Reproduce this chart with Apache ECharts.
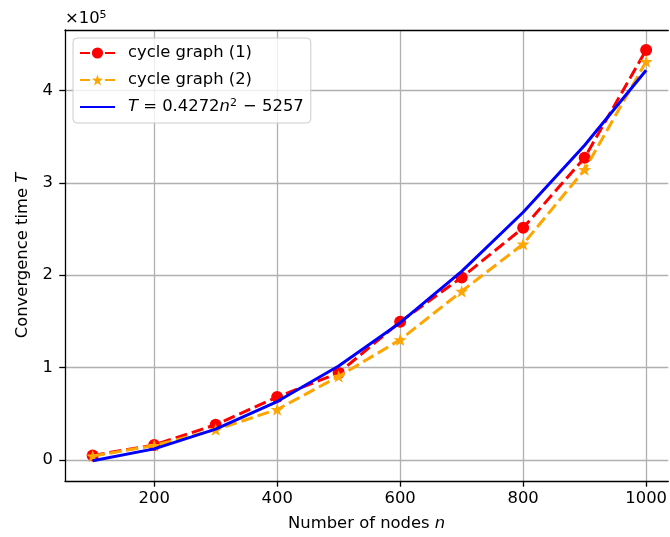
<!DOCTYPE html>
<html>
<head>
<meta charset="utf-8">
<script src="https://cdn.jsdelivr.net/npm/echarts@6/dist/echarts.min.js"></script>
<style>html,body{margin:0;padding:0;background:#fff}#c{width:670px;height:537px}</style>
</head>
<body>
<div id="c"></div>
<script>
const nodes = [100, 200, 300, 400, 500, 600, 700, 800, 900, 1000];
const cycle1 = [4700, 16000, 38000, 68000, 94000, 149500, 197500, 251300, 327200, 444000];
const cycle2 = [4000, 15500, 32600, 54500, 90300, 130000, 182500, 233700, 314300, 431500];
const fitT = [-985, 11831, 33191, 63095, 101543, 148535, 204071, 268151, 340775, 421943];
const xTicks = [200, 400, 600, 800, 1000];
const yTicks = [0, 100000, 200000, 300000, 400000];
const seriesNames = ['cycle graph (1)', 'cycle graph (2)', 'fit'];

const FONT = 'DejaVu Sans';
const FS = 16.4;
const pairs = (ys) => nodes.map((x, i) => [x, ys[i]]);
const starPath = 'path://M0,-10 L2.35,-3.24 L9.51,-3.09 L3.8,1.24 L5.88,8.09 L0,4 L-5.88,8.09 L-3.8,1.24 L-9.51,-3.09 L-2.35,-3.24 Z';

const chart = echarts.init(document.getElementById('c'), null, {renderer: 'canvas'});
const axisCommon = {
  axisLine: {show: true, onZero: false, lineStyle: {color: '#000', width: 1.3}},
  axisTick: {show: true, inside: false, length: 5.7, lineStyle: {color: '#000', width: 1.3}},
  splitLine: {show: true, lineStyle: {color: '#b0b0b0', width: 1.3}},
};
const richAxis = {
  a: {fontSize: FS, fontFamily: FONT, color: '#000'},
  i: {fontSize: FS, fontFamily: FONT, fontStyle: 'italic', color: '#000'}
};
chart.setOption({
  animation: false,
  backgroundColor: '#fff',
  textStyle: {fontFamily: FONT},
  grid: {left: 65, right: 0, top: 30, bottom: 52.7, containLabel: false},
  xAxis: [{
    type: 'value', min: 55, max: 1036,
    ...axisCommon,
    axisTick: {...axisCommon.axisTick, customValues: xTicks},
    axisLabel: {customValues: xTicks, color: '#000', fontSize: FS, fontFamily: FONT, margin: 10,
      formatter: v => String(v)},
    name: '{a|Number of nodes }{i|n}', nameLocation: 'middle', nameGap: 35,
    nameTextStyle: {rich: richAxis}
  }, {
    type: 'value', position: 'top', min: 55, max: 1036,
    axisLine: {show: true, onZero: false, lineStyle: {color: '#000', width: 1.3}},
    axisTick: {show: false}, axisLabel: {show: false}, splitLine: {show: false}
  }],
  yAxis: {
    type: 'value', min: -23000, max: 465600,
    ...axisCommon,
    axisTick: {...axisCommon.axisTick, customValues: yTicks},
    axisLabel: {customValues: yTicks, color: '#000', fontSize: FS, fontFamily: FONT, margin: 12,
      formatter: v => String(Math.round(v / 100000))},
    name: '{a|Convergence time }{i|T}', nameLocation: 'middle', nameGap: 34, nameRotate: 90,
    nameTextStyle: {rich: richAxis}
  },
  legend: {
    orient: 'vertical', left: 73, top: 38,
    padding: [6, 7, 7, 6],
    itemWidth: 35, itemHeight: 14, itemGap: 9,
    backgroundColor: 'rgba(255,255,255,0.8)', borderColor: '#cccccc', borderWidth: 1, borderRadius: 4,
    data: [
      {name: seriesNames[0], lineStyle: {type: [10, 15]}},
      {name: seriesNames[1], lineStyle: {type: [10, 15]}},
      {name: seriesNames[2], itemStyle: {opacity: 0}}
    ],
    formatter: (name) => name === 'fit' ? '{i|T}{a| = 0.4272}{i|n}{s|2}{a| − 5257}' : '{a|' + name + '}',
    textStyle: {fontSize: FS, fontFamily: FONT, color: '#000', padding: [0, 0, 0, 8], lineHeight: 18,
      rich: {
        a: {fontSize: FS, fontFamily: FONT, color: '#000', lineHeight: 18},
        i: {fontSize: FS, fontFamily: FONT, fontStyle: 'italic', color: '#000', lineHeight: 18},
        s: {fontSize: 11, fontFamily: FONT, color: '#000', verticalAlign: 'top', lineHeight: 11, padding: [0, 1, 0, 0]}
      }
    }
  },
  graphic: [{
    type: 'text', left: 65, top: 10,
    style: {text: '{a|×10}{s|5}', fill: '#000',
      rich: {
        a: {fontSize: FS, fontFamily: FONT, fill: '#000', lineHeight: 18},
        s: {fontSize: 11, fontFamily: FONT, fill: '#000', verticalAlign: 'top', lineHeight: 11}
      }}
  }],
  series: [{
    name: seriesNames[0], type: 'line', data: pairs(cycle1),
    symbol: 'circle', symbolSize: 12, showAllSymbol: true,
    itemStyle: {color: '#ff0000'},
    lineStyle: {color: '#ff0000', width: 3, type: [12, 5]},
    z: 2
  }, {
    name: seriesNames[1], type: 'line', data: pairs(cycle2),
    symbol: starPath, symbolSize: 13, symbolKeepAspect: true, showAllSymbol: true,
    itemStyle: {color: '#ffa500'},
    lineStyle: {color: '#ffa500', width: 3, type: [12, 5]},
    z: 3
  }, {
    name: seriesNames[2], type: 'line', data: pairs(fitT),
    symbol: 'none', showSymbol: false,
    itemStyle: {color: '#0000ff'},
    lineStyle: {color: '#0000ff', width: 3},
    z: 4
  }]
});
</script>
</body>
</html>
